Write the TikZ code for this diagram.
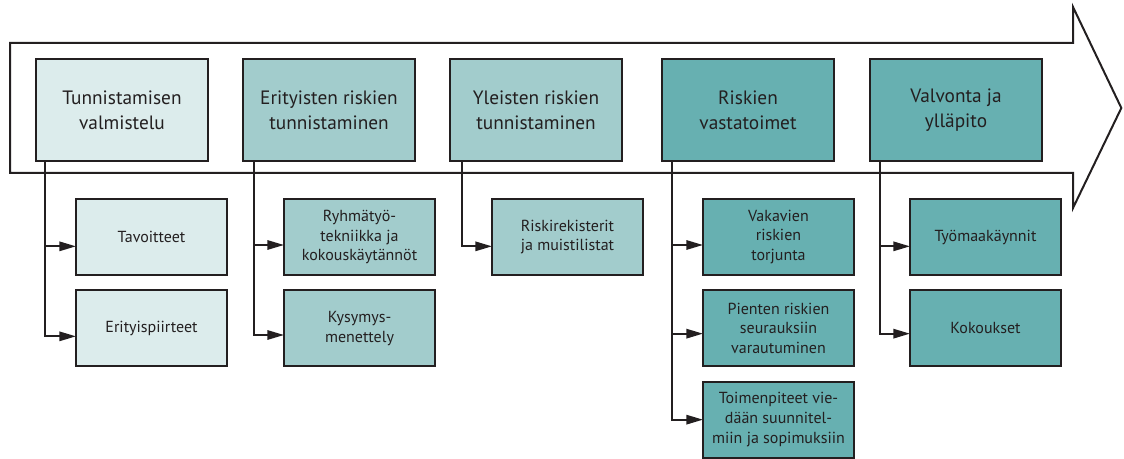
\documentclass[tikz,border=0pt]{standalone}
\usepackage{fontspec}
\setmainfont{PT Sans}
\usetikzlibrary{positioning, arrows.meta}
\definecolor{paleTeal}{RGB}{220,236,236}
\definecolor{midTeal}{RGB}{162,204,204}
\definecolor{darkTeal}{RGB}{103,176,177}
\definecolor{inkGray}{RGB}{35,31,32}

\begin{document}
\begin{tikzpicture}[node distance=26.25pt,
    stage/.style={draw=inkGray, line width=1.5pt, outer sep=0pt, inner sep=2pt, minimum width=129pt, minimum height=76.5pt, align=center, text=inkGray, font=\fontsize{14.5}{18.75}\selectfont},
    task/.style={draw=inkGray, line width=1.5pt, outer sep=0pt, inner sep=1pt, minimum width=113.25pt, minimum height=57pt, align=center, text=inkGray, font=\fontsize{12}{14.75}\selectfont},
    feed/.style={draw=inkGray, line width=1.5pt, -{Triangle[length=12.5pt,width=7pt]}}]
    \useasboundingbox (0,0) rectangle (843pt,-344.25pt);
    \draw[inkGray, line width=1.5pt] (7.5pt,-32.25pt) -- (804.75pt,-32.25pt) -- (804.75pt,-5.25pt) -- (841pt,-81pt) -- (804.75pt,-156pt) -- (804.75pt,-129.75pt) -- (7.5pt,-129.75pt) -- cycle;

    \node[stage, fill=paleTeal] (prep) at (91.5pt,-82.5pt) {Tunnistamisen\\valmistelu};
    \node[stage, fill=midTeal, right = of prep] (special) {Erityisten riskien\\tunnistaminen};
    \node[stage, fill=midTeal, right = of special] (general) {Yleisten riskien\\tunnistaminen};
    \node[stage, fill=darkTeal, right = 30pt of general] (response) {Riskien\\vastatoimet};
    \node[stage, fill=darkTeal, right = 27pt of response] (control) {Valvonta ja\\ylläpito};

    \node[task, fill=paleTeal, below right = 28.5pt and 30pt of prep.south west] (goals) {Tavoitteet};
    \node[task, fill=paleTeal, below = 11.5pt of goals] (features) {Erityispiirteet};
    \node[task, fill=midTeal, below right = 28.5pt and 30.75pt of special.south west] (groupWork) {Ryhmätyö-\\tekniikka ja\\kokouskäytännöt};
    \node[task, fill=midTeal, below = 11.5pt of groupWork] (inquiry) {Kysymys-\\menettely};
    \node[task, fill=midTeal, below right = 28.5pt and 31.5pt of general.south west] (registers) {Riskirekisterit\\ja muistilistat};
    \node[task, fill=darkTeal, below right = 28.5pt and 30.75pt of response.south west] (prevention) {Vakavien\\riskien\\torjunta};
    \node[task, fill=darkTeal, below = 11.5pt of prevention] (preparedness) {Pienten riskien\\seurauksiin\\varautuminen};
    \node[task, fill=darkTeal, below = 11.5pt of preparedness] (contracts) {Toimenpiteet vie-\\dään suunnitel-\\miin ja sopimuksiin};
    \node[task, fill=darkTeal, below right = 28.5pt and 30pt of control.south west] (siteVisits) {Työmaakäynnit};
    \node[task, fill=darkTeal, below = 11.5pt of siteVisits] (meetings) {Kokoukset};

    \draw[feed] ([xshift=7pt]prep.south west) |- ([yshift=-7pt]goals.west);
    \draw[feed] ([xshift=7pt]prep.south west) |- ([yshift=-6pt]features.west);
    \draw[feed] ([xshift=8pt]special.south west) |- ([yshift=-6pt]groupWork.west);
    \draw[feed] ([xshift=8pt]special.south west) |- ([yshift=-5pt]inquiry.west);
    \draw[feed] ([xshift=9pt]general.south west) |- ([yshift=-7pt]registers.west);
    \draw[feed] ([xshift=7.5pt]response.south west) |- ([yshift=-6pt]prevention.west);
    \draw[feed] ([xshift=7.5pt]response.south west) |- ([yshift=-4pt]preparedness.west);
    \draw[feed] ([xshift=7.5pt]response.south west) |- (contracts.west);
    \draw[feed] ([xshift=7.5pt]control.south west) |- ([yshift=-7pt]siteVisits.west);
    \draw[feed] ([xshift=7.5pt]control.south west) |- ([yshift=-4pt]meetings.west);
\end{tikzpicture}
\end{document}
